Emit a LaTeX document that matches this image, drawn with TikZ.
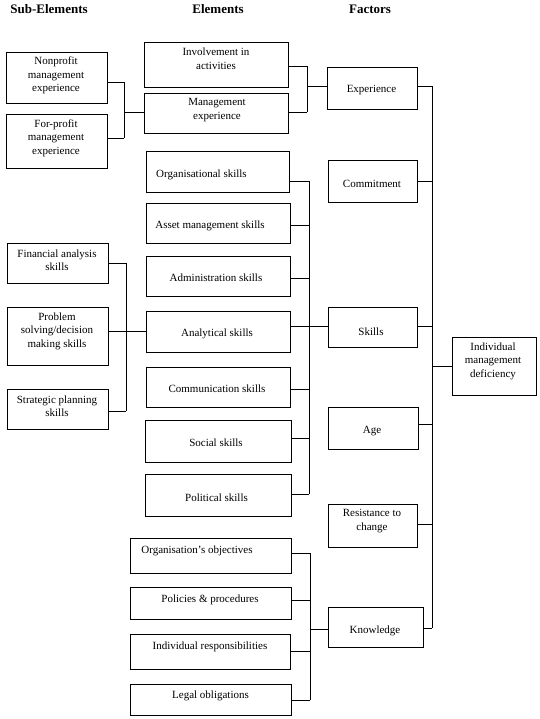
\documentclass[tikz,border=0pt]{standalone}
\usepackage{fontspec}
\setmainfont{Liberation Serif}
\tikzset{
  box/.style={draw, line width=0.9pt, inner sep=0pt, outer sep=0pt},
  txt/.style={font=\fontsize{11}{13.5}\selectfont, align=center, inner sep=0pt},
  hdr/.style={font=\fontsize{13}{15}\selectfont\bfseries, inner sep=0pt},
  conn/.style={line width=0.9pt},
}
\newcommand\mkbox[5]{\node[box, minimum width={(#4-#2)*1pt}, minimum height={(#5-#3)*1pt}] (#1) at ({(#2+#4)/2},{(#3+#5)/2}) {};}
\newcommand\lnk[3]{\draw[conn] (#1.east |- 0,#3) -- (#2 |- 0,#3);}
\newcommand\lnkin[3]{\draw[conn] (#1 |- 0,#3) -- (#2.west |- 0,#3);}
\begin{document}
\begin{tikzpicture}[x=1pt,y=-1pt]
\useasboundingbox (0,0) rectangle (539,719);
% headers
\node[hdr] (h1) at (49,9) {Sub-Elements};
\node[hdr] (h2) at (218,9) {Elements};
\node[hdr] (h3) at (370,9) {Factors};
% sub-element boxes
\mkbox{np}{6}{52}{107}{103}
\mkbox{fp}{6}{114}{107}{168}
\mkbox{fin}{7}{243}{108}{283}
\mkbox{prb}{7}{307}{108}{365}
\mkbox{stg}{7}{389}{108}{429}
% element boxes
\mkbox{inv}{144}{42}{288}{87}
\mkbox{mex}{144}{93}{288}{133}
\mkbox{org}{146}{151}{289}{192}
\mkbox{ast}{146}{203}{290}{243}
\mkbox{adm}{146}{256}{290}{296}
\mkbox{ana}{146}{311}{290}{352}
\mkbox{com}{146}{367}{290}{407}
\mkbox{soc}{145}{420}{291}{462}
\mkbox{pol}{145}{474}{291}{516}
\mkbox{oob}{130}{538}{291}{573}
\mkbox{pcy}{130}{587}{291}{619}
\mkbox{ind}{130}{634}{290}{669}
\mkbox{leg}{130}{684}{291}{715}
% factor boxes
\mkbox{fexp}{327}{67}{417}{109}
\mkbox{fcom}{328}{160}{417}{202}
\mkbox{fskl}{328}{307}{417}{347}
\mkbox{fage}{328}{407}{418}{449}
\mkbox{fres}{328}{504}{417}{547}
\mkbox{fkno}{328}{607}{423}{647}
\mkbox{imd}{452}{337}{536}{395}
% texts
\node[txt] (tnp) at (56,75.5) {Nonprofit\\management\\experience};
\node[txt] (tfp) at (56,138) {For-profit\\management\\experience};
\node[txt] (tfin) at (57,260) {Financial analysis\\skills};
\node[txt] (tprb) at (57,331) {Problem\\solving/decision\\making skills};
\node[txt] (tstg) at (57,406) {Strategic planning\\skills};
\node[txt] (tinv) at (216,58.5) {Involvement in\\activities};
\node[txt] (tmex) at (217,110) {Management\\experience};
\node[txt] (torg) at (201.5,175) {Organisational skills};
\node[txt] (tast) at (210,226) {Asset management skills};
\node[txt] (tadm) at (216,278) {Administration skills};
\node[txt] (tana) at (217,334) {Analytical skills};
\node[txt] (tcom) at (217,389) {Communication skills};
\node[txt] (tsoc) at (216,443) {Social skills};
\node[txt] (tpol) at (216.5,498) {Political skills};
\node[txt] (toob) at (197,551) {Organisation’s objectives};
\node[txt] (tpcy) at (210,600) {Policies \& procedures};
\node[txt] (tind) at (210,647) {Individual responsibilities};
\node[txt] (tleg) at (210.5,696) {Legal obligations};
\node[txt] (texp) at (371.5,90) {Experience};
\node[txt] (tcomm) at (372,184) {Commitment};
\node[txt] (tskl) at (371,332) {Skills};
\node[txt] (tage) at (372,431) {Age};
\node[txt] (tres) at (372,521) {Resistance to\\change};
\node[txt] (tkno) at (375,631) {Knowledge};
\node[txt] (timd) at (493,361) {Individual\\management\\deficiency};
% bus coordinates
\coordinate (bA1) at (124,82);  \coordinate (bA2) at (124,138);
\coordinate (bB1) at (307,66);  \coordinate (bB2) at (307,112);
\coordinate (bC1) at (126,263); \coordinate (bC2) at (126,411);
\coordinate (bD1) at (309,181); \coordinate (bD2) at (309,494);
\coordinate (bE1) at (310,553); \coordinate (bE2) at (310,700);
\coordinate (bF1) at (432,86);  \coordinate (bF2) at (432,628);
% experience sub-elements
\lnk{np}{bA1}{82}
\lnk{fp}{bA1}{138}
\draw[conn] (bA1) -- (bA2);
\lnkin{bA1}{mex}{112}
% experience elements
\lnk{inv}{bB1}{66}
\lnk{mex}{bB1}{112}
\draw[conn] (bB1) -- (bB2);
\lnkin{bB1}{fexp}{86}
% analytical sub-elements
\lnk{fin}{bC1}{263}
\lnk{prb}{bC1}{331}
\lnk{stg}{bC1}{411}
\draw[conn] (bC1) -- (bC2);
\lnkin{bC1}{ana}{331}
% skills elements
\lnk{org}{bD1}{181}
\lnk{ast}{bD1}{225}
\lnk{adm}{bD1}{278}
\lnk{ana}{bD1}{326}
\lnk{com}{bD1}{389}
\lnk{soc}{bD1}{438}
\lnk{pol}{bD1}{494}
\draw[conn] (bD1) -- (bD2);
\lnkin{bD1}{fskl}{326}
% knowledge elements
\lnk{oob}{bE1}{553}
\lnk{pcy}{bE1}{600}
\lnk{ind}{bE1}{651}
\lnk{leg}{bE1}{700}
\draw[conn] (bE1) -- (bE2);
\lnkin{bE1}{fkno}{629}
% factors
\lnk{fexp}{bF1}{86}
\lnk{fcom}{bF1}{181}
\lnk{fskl}{bF1}{326}
\lnk{fage}{bF1}{424}
\lnk{fres}{bF1}{524}
\lnk{fkno}{bF1}{628}
\draw[conn] (bF1) -- (bF2);
\lnkin{bF1}{imd}{366}
\end{tikzpicture}
\end{document}
